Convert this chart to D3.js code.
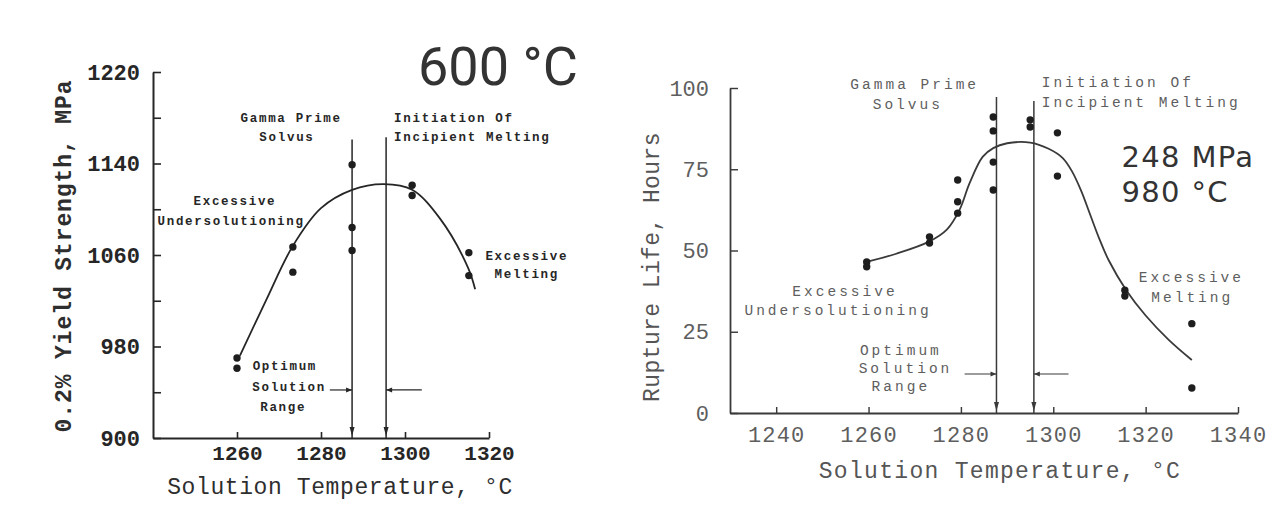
<!DOCTYPE html>
<html>
<head>
<meta charset="utf-8">
<script src="https://cdn.jsdelivr.net/npm/d3@7"></script>
<style>
  html, body { margin: 0; padding: 0; background: #fff; }
  svg { display: block; }
</style>
</head>
<body>
<svg id="chart" width="1283" height="528"></svg>
<script>
// ---- 0.2% yield strength at 600 °C versus solution temperature ----
const yieldPointTemps  = [1260, 1260, 1273.3, 1273.3, 1287.4, 1287.4, 1287.4, 1301.7, 1301.7, 1315.2, 1315.2];
const yieldPointValues = [970, 961, 1067, 1045, 1139, 1084, 1064, 1121, 1112, 1062, 1042];
const yieldCurveTemps  = [1260.7, 1267, 1273.3, 1280, 1287.4, 1295, 1301.7, 1308.3, 1315, 1316.7];
const yieldCurveValues = [972, 1021, 1068, 1101, 1117, 1122, 1117, 1092, 1049, 1030];
const yieldTicks       = [900, 940, 980, 1020, 1060, 1100, 1140, 1180, 1220];
const yieldTickLabels  = ["900", "", "980", "", "1060", "", "1140", "", "1220"];
const yieldTempTicks   = [1260, 1280, 1300, 1320];
const yieldTempLabels  = ["1260", "1280", "1300", "1320"];

// ---- Rupture life at 248 MPa / 980 °C versus solution temperature ----
const rupturePointTemps = [1259.6, 1259.6, 1273.2, 1273.2, 1279.3, 1279.3, 1279.3, 1287, 1287, 1287, 1287,
                           1295, 1295, 1300.9, 1300.9, 1315.5, 1315.5, 1330, 1330];
const rupturePointHours = [46.5, 45, 54.2, 52.3, 71.7, 65, 61.5, 91.1, 86.8, 77.2, 68.6,
                           90.2, 88, 86.2, 72.9, 37.8, 36, 27.5, 7.7];
const ruptureCurveTemps = [1259.6, 1266, 1273.2, 1277, 1279.7, 1281.9, 1284.7, 1287, 1290, 1295, 1299,
                           1302, 1304, 1306, 1308, 1310, 1312, 1315.8, 1320, 1325, 1330];
const ruptureCurveHours = [46.5, 49, 52.8, 56.5, 62.5, 70.8, 78.8, 81.5, 83, 83.2, 81.3,
                           78.5, 74.5, 68.5, 61, 53.5, 47, 37.8, 30, 22.5, 16.3];
const ruptureTicks      = [0, 25, 50, 75, 100];
const ruptureTickLabels = ["0", "25", "50", "75", "100"];
const ruptureTempTicks  = [1240, 1260, 1280, 1300, 1320, 1340];
const ruptureTempLabels = ["1240", "1260", "1280", "1300", "1320", "1340"];

// Microstructural limits: gamma prime solvus and onset of incipient melting
const solvusTemps  = [1287.4, 1287.7];
const meltingTemps = [1295.5, 1295.8];

const svg = d3.select("#chart");
const MONO = "'Liberation Mono', 'DejaVu Sans Mono', monospace";

const panels = [
  {
    x: d3.scaleLinear().domain([1240, 1320]).range([153, 489]),
    y: d3.scaleLinear().domain([900, 1220]).range([438, 72]),
    ink: "#262626", textInk: "#262626", axisWidth: 2,
    pts: yieldPointTemps.map((t, i) => [t, yieldPointValues[i]]),
    curve: yieldCurveTemps.map((t, i) => [t, yieldCurveValues[i]]),
    yTicks: yieldTicks, yLabels: yieldTickLabels, yPad: 13, yFont: 22,
    xTicks: yieldTempTicks, xLabels: yieldTempLabels, xPad: 7, xFont: 21, xSpacing: 0,
    tickWeight: "bold",
    yTitle: "0.2% Yield Strength, MPa", yTitlePos: [65, 256], yTitleSpacing: 0.9,
    xTitle: "Solution Temperature, \u00B0C", xTitlePos: [340, 488], xTitleSpacing: 0.6,
    titleInk: "#2e2e2e", titleWeight: "bold",
    solvus: solvusTemps[0], melt: meltingTemps[0],
    lineTop: [1161, 1163],
    noteFont: 12.5, noteSpacing: 1.7, noteWeight: "bold",
    notes: [
      ["Gamma Prime", 1272.9, 1178.9, "middle"],
      ["Solvus", 1271.9, 1162.3, "middle"],
      ["Initiation Of", 1297.4, 1178.9, "start"],
      ["Incipient Melting", 1297.4, 1162.3, "start"],
      ["Excessive", 1259.5, 1106.4, "middle"],
      ["Undersolutioning", 1258.6, 1088.9, "middle"],
      ["Excessive", 1329, 1058.3, "middle"],
      ["Melting", 1329, 1042.6, "middle"],
      ["Optimum", 1271.4, 962.1, "middle"],
      ["Solution", 1272.4, 943.8, "middle"],
      ["Range", 1271, 926.3, "middle"]
    ],
    leader: { y: 942, left: 1282.1, right: 1304 },
    big: [["600 \u00B0C", 1303.1, 1208.6, 54, "Roboto, 'Liberation Sans', Arial, sans-serif", 0]]
  },
  {
    x: d3.scaleLinear().domain([1230, 1340]).range([730, 1238]),
    y: d3.scaleLinear().domain([0, 100]).range([413, 88]),
    ink: "#3a3a3a", textInk: "#5e5e5e", axisWidth: 1.8,
    pts: rupturePointTemps.map((t, i) => [t, rupturePointHours[i]]),
    curve: ruptureCurveTemps.map((t, i) => [t, ruptureCurveHours[i]]),
    yTicks: ruptureTicks, yLabels: ruptureTickLabels, yPad: 21, yFont: 22,
    xTicks: ruptureTempTicks, xLabels: ruptureTempLabels, xPad: 13, xFont: 22, xSpacing: 1.2,
    tickWeight: "normal",
    yTitle: "Rupture Life, Hours", yTitlePos: [653, 267], yTitleSpacing: 0.4,
    xTitle: "Solution Temperature, \u00B0C", xTitlePos: [1000, 472], xTitleSpacing: 1.3,
    titleInk: "#555", titleWeight: "normal",
    solvus: solvusTemps[1], melt: meltingTemps[1],
    lineTop: [97.2, 96],
    noteFont: 14.5, noteSpacing: 3, noteWeight: "normal",
    notes: [
      ["Gamma Prime", 1270, 100.9, "middle"],
      ["Solvus", 1268.5, 94.8, "middle"],
      ["Initiation Of", 1297.5, 101.5, "start"],
      ["Incipient Melting", 1297.5, 95.5, "start"],
      ["Excessive", 1254.9, 37.2, "middle"],
      ["Undersolutioning", 1253.4, 31.4, "middle"],
      ["Excessive", 1329.9, 41.5, "middle"],
      ["Melting", 1330.1, 35.4, "middle"],
      ["Optimum", 1267, 19.1, "middle"],
      ["Solution", 1268, 13.5, "middle"],
      ["Range", 1267, 8, "middle"]
    ],
    leader: { y: 12, left: 1280.8, right: 1303.3 },
    big: [["248 MPa", 1314.8, 75.7, 29, "'DejaVu Sans', Verdana, sans-serif", 1.3],
          ["980 \u00B0C", 1314.8, 64.9, 29, "'DejaVu Sans', Verdana, sans-serif", 1.3]]
  }
];

panels.forEach(p => {
  const g = svg.append("g");
  const { x, y } = p;

  // y axis with inward ticks
  const yAxis = d3.axisLeft(y)
    .tickValues(p.yTicks)
    .tickFormat((d, i) => p.yLabels[i])
    .tickSize(-8).tickSizeOuter(0).tickPadding(p.yPad);
  const gy = g.append("g").attr("transform", `translate(${x.range()[0]},0)`).call(yAxis);

  // x axis with inward ticks
  const xAxis = d3.axisBottom(x)
    .tickValues(p.xTicks)
    .tickFormat((d, i) => p.xLabels[i])
    .tickSize(-6).tickSizeOuter(0).tickPadding(p.xPad);
  const gx = g.append("g").attr("transform", `translate(0,${y.range()[0]})`).call(xAxis);

  [gy, gx].forEach(a => {
    a.select(".domain").attr("stroke", p.ink).attr("stroke-width", p.axisWidth);
    a.selectAll(".tick line").attr("stroke", p.ink).attr("stroke-width", p.axisWidth * 0.8);
    a.selectAll("text").attr("fill", p.textInk).attr("font-family", MONO)
      .attr("font-weight", p.tickWeight);
  });
  gy.selectAll("text").attr("font-size", p.yFont);
  gx.selectAll("text").attr("font-size", p.xFont).attr("letter-spacing", p.xSpacing);

  // axis titles
  g.append("text")
    .attr("transform", `translate(${p.yTitlePos[0]},${p.yTitlePos[1]}) rotate(-90)`)
    .attr("text-anchor", "middle").attr("dominant-baseline", "central")
    .attr("font-family", MONO).attr("font-size", 23)
    .attr("font-weight", p.titleWeight)
    .attr("letter-spacing", p.yTitleSpacing)
    .attr("fill", p.titleInk)
    .text(p.yTitle);
  g.append("text")
    .attr("x", p.xTitlePos[0]).attr("y", p.xTitlePos[1])
    .attr("text-anchor", "middle").attr("dominant-baseline", "central")
    .attr("font-family", MONO).attr("font-size", 23)
    .attr("letter-spacing", p.xTitleSpacing)
    .attr("fill", p.titleInk)
    .text(p.xTitle);

  // boundary lines with arrowheads at the base
  [[p.solvus, p.lineTop[0]], [p.melt, p.lineTop[1]]].forEach(([t, top]) => {
    g.append("line")
      .attr("x1", x(t)).attr("x2", x(t))
      .attr("y1", y(top)).attr("y2", y.range()[0])
      .attr("stroke", p.ink).attr("stroke-width", 1.5);
    const bx = x(t), by = y.range()[0] - 2;
    g.append("path")
      .attr("d", `M${bx - 2.5},${by - 9}L${bx + 2.5},${by - 9}L${bx},${by}Z`)
      .attr("fill", p.ink);
  });

  // optimum range leaders
  const ly = y(p.leader.y);
  g.append("line").attr("x1", x(p.leader.left)).attr("x2", x(p.solvus))
    .attr("y1", ly).attr("y2", ly).attr("stroke", p.ink).attr("stroke-width", 1.2);
  g.append("line").attr("x1", x(p.melt)).attr("x2", x(p.leader.right))
    .attr("y1", ly).attr("y2", ly).attr("stroke", p.ink).attr("stroke-width", 1.2);
  g.append("path")
    .attr("d", `M${x(p.solvus) - 6},${ly - 2.5}L${x(p.solvus)},${ly}L${x(p.solvus) - 6},${ly + 2.5}Z`)
    .attr("fill", p.ink);
  g.append("path")
    .attr("d", `M${x(p.melt) + 6},${ly - 2.5}L${x(p.melt)},${ly}L${x(p.melt) + 6},${ly + 2.5}Z`)
    .attr("fill", p.ink);

  // fitted trend curve
  g.append("path")
    .datum(p.curve)
    .attr("d", d3.line().x(d => x(d[0])).y(d => y(d[1])).curve(d3.curveCatmullRom.alpha(0.5)))
    .attr("fill", "none").attr("stroke", p.ink).attr("stroke-width", 1.8);

  // measured points
  g.selectAll("circle.pt").data(p.pts).join("circle")
    .attr("class", "pt")
    .attr("cx", d => x(d[0])).attr("cy", d => y(d[1]))
    .attr("r", 3.7).attr("fill", "#1e1e1e");

  // region annotations
  p.notes.forEach(([txt, tx, ty, anchor]) => {
    g.append("text")
      .attr("x", x(tx)).attr("y", y(ty))
      .attr("text-anchor", anchor).attr("dominant-baseline", "central")
      .attr("font-family", MONO).attr("font-size", p.noteFont)
      .attr("font-weight", p.noteWeight)
      .attr("letter-spacing", p.noteSpacing)
      .attr("fill", p.textInk)
      .text(txt);
  });

  // test condition labels
  p.big.forEach(([txt, tx, ty, fs, family, spacing]) => {
    g.append("text")
      .attr("x", x(tx)).attr("y", y(ty))
      .attr("font-family", family).attr("font-size", fs)
      .attr("letter-spacing", spacing)
      .attr("fill", "#333")
      .text(txt);
  });
});
</script>
</body>
</html>
